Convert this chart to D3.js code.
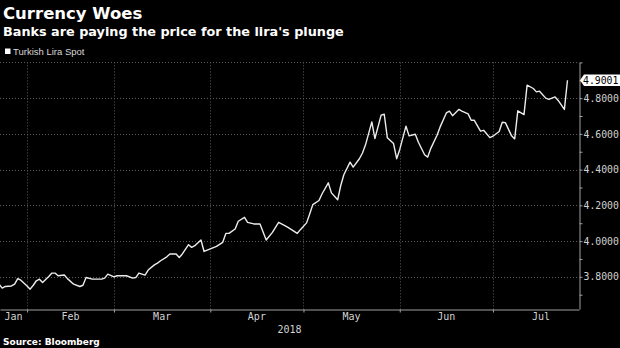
<!DOCTYPE html>
<html>
<head>
<meta charset="utf-8">
<script src="https://cdn.jsdelivr.net/npm/d3@7"></script>
<style>
  html, body { margin: 0; padding: 0; background: #000; }
  svg { display: block; }
</style>
</head>
<body>
<svg id="chart" width="620" height="348"></svg>
<script>
// ---------- DATA ----------
const title = "Currency Woes";
const subtitle = "Banks are paying the price for the lira's plunge";
const seriesName = "Turkish Lira Spot";
const source = "Source: Bloomberg";
const axisYear = "2018";

const dates = [
  "2018-01-23","2018-01-24","2018-01-25","2018-01-27","2018-01-28","2018-01-29","2018-01-30",
  "2018-02-01","2018-02-02","2018-02-03","2018-02-04","2018-02-05","2018-02-06","2018-02-08",
  "2018-02-09","2018-02-10","2018-02-11","2018-02-13","2018-02-14","2018-02-16","2018-02-18",
  "2018-02-19","2018-02-20","2018-02-22","2018-02-25","2018-02-26","2018-02-27",
  "2018-03-01","2018-03-02","2018-03-05","2018-03-07","2018-03-08","2018-03-09","2018-03-11",
  "2018-03-12","2018-03-14","2018-03-15","2018-03-16","2018-03-18","2018-03-19","2018-03-21",
  "2018-03-22","2018-03-23","2018-03-25","2018-03-26","2018-03-27","2018-03-29","2018-03-30",
  "2018-04-01","2018-04-03","2018-04-05","2018-04-06","2018-04-07","2018-04-09","2018-04-10",
  "2018-04-12","2018-04-13","2018-04-15","2018-04-17","2018-04-19","2018-04-21","2018-04-23",
  "2018-04-25","2018-04-26","2018-04-29","2018-04-30",
  "2018-05-02","2018-05-03","2018-05-04","2018-05-06","2018-05-07","2018-05-09","2018-05-10",
  "2018-05-12","2018-05-13","2018-05-14","2018-05-16","2018-05-17","2018-05-19","2018-05-20",
  "2018-05-21","2018-05-23","2018-05-24","2018-05-26","2018-05-27","2018-05-28","2018-05-30",
  "2018-05-31",
  "2018-06-01","2018-06-03","2018-06-04","2018-06-06","2018-06-07","2018-06-09","2018-06-10",
  "2018-06-11","2018-06-13","2018-06-14","2018-06-16","2018-06-17","2018-06-18","2018-06-20",
  "2018-06-21","2018-06-23","2018-06-24","2018-06-25","2018-06-27","2018-06-28","2018-06-30",
  "2018-07-01","2018-07-03","2018-07-04","2018-07-05","2018-07-07","2018-07-08","2018-07-09",
  "2018-07-11","2018-07-12","2018-07-14","2018-07-15","2018-07-16","2018-07-18","2018-07-19",
  "2018-07-21","2018-07-22","2018-07-24","2018-07-25"
];

const values = [
  3.759,3.737,3.746,3.749,3.759,3.790,3.781,
  3.749,3.731,3.753,3.778,3.787,3.768,3.802,
  3.821,3.821,3.806,3.810,3.790,3.759,3.746,
  3.753,3.796,3.787,3.787,3.793,3.815,
  3.800,3.806,3.806,3.793,3.796,3.821,3.810,
  3.838,3.867,3.877,3.890,3.912,3.928,3.928,
  3.908,3.928,3.980,3.965,3.974,4.006,3.942,
  3.956,3.970,3.993,4.043,4.043,4.068,4.111,
  4.133,4.105,4.096,4.096,4.006,4.049,4.105,
  4.087,4.077,4.043,4.064,
  4.102,4.152,4.204,4.227,4.265,4.326,4.270,
  4.231,4.311,4.371,4.442,4.414,4.461,4.493,
  4.540,4.667,4.574,4.705,4.710,4.578,4.546,
  4.461,
  4.513,4.643,4.589,4.598,4.553,4.483,4.470,
  4.519,4.592,4.639,4.717,4.727,4.702,4.737,
  4.727,4.712,4.676,4.676,4.615,4.620,4.579,
  4.587,4.613,4.665,4.663,4.589,4.572,4.729,
  4.708,4.873,4.854,4.835,4.839,4.800,4.793,
  4.807,4.787,4.737,4.9001
];

const yMajorTicks = [3.8, 4.0, 4.2, 4.4, 4.6, 4.8];
const yGridTicks = [3.8, 4.0, 4.2, 4.4, 4.6, 4.8, 5.0];
const yMinorTicks = [3.7, 3.9, 4.1, 4.3, 4.5, 4.7, 4.9, 5.0];
const monthStarts = ["2018-01-01","2018-02-01","2018-03-01","2018-04-01","2018-05-01","2018-06-01","2018-07-01","2018-08-01"];
const monthLabels = ["Jan","Feb","Mar","Apr","May","Jun","Jul"];
const lastLabel = "4.9001";

// ---------- LAYOUT ----------
const parse = d3.timeParse("%Y-%m-%d");
const data = dates.map((d, i) => ({ date: parse(d), value: values[i] }));
const mStarts = monthStarts.map(parse);

const plotLeft = 0, plotRight = 579, plotTop = 62.4, plotBottom = 309;
const x = d3.scaleTime()
  .domain([new Date(2018, 0, 23, 7), new Date(2018, 6, 28, 17)])
  .range([plotLeft, plotRight]);
const y = d3.scaleLinear().domain([3.62, 5.0]).range([plotBottom, plotTop]);

const svg = d3.select("#chart");
svg.append("rect").attr("width", 620).attr("height", 348).attr("fill", "#000");

const monoFont = "'DejaVu Sans Mono', monospace";
const axisColor = "#a0a0a0";
const labelColor = "#d2d2d2";

// Gridlines
const grid = svg.append("g");
grid.selectAll("line.h").data(yGridTicks).join("line")
  .attr("x1", plotLeft).attr("x2", plotRight)
  .attr("y1", d => Math.round(y(d)) + 0.5).attr("y2", d => Math.round(y(d)) + 0.5)
  .attr("stroke", "#5a5a5a").attr("stroke-width", 1).attr("stroke-dasharray", "1,2");
const innerMonths = mStarts.filter(d => x(d) > plotLeft + 1 && x(d) < plotRight - 1);
grid.selectAll("line.v").data(innerMonths).join("line")
  .attr("x1", d => Math.round(x(d)) + 0.5).attr("x2", d => Math.round(x(d)) + 0.5)
  .attr("y1", plotTop).attr("y2", plotBottom)
  .attr("stroke", "#5a5a5a").attr("stroke-width", 1).attr("stroke-dasharray", "1,2");

// Right axis (major with labels)
const yAxis = d3.axisRight(y).tickValues(yMajorTicks).tickFormat(d3.format(".4f"))
  .tickSize(3).tickSizeOuter(0).tickPadding(1);
const gy = svg.append("g").attr("transform", `translate(${plotRight + 0.5},0)`).call(yAxis);
gy.select(".domain").attr("stroke", axisColor);
gy.selectAll(".tick line").attr("stroke", axisColor);
gy.selectAll(".tick text").attr("fill", labelColor).style("font-family", monoFont).style("font-size", "9.8px");

// Right axis minor ticks
const yMinor = d3.axisRight(y).tickValues(yMinorTicks).tickFormat("").tickSize(3).tickSizeOuter(0);
const gym = svg.append("g").attr("transform", `translate(${plotRight + 0.5},0)`).call(yMinor);
gym.select(".domain").remove();
gym.selectAll(".tick line").attr("stroke", axisColor);

// Bottom axis
const xAxis = d3.axisBottom(x).tickValues(innerMonths).tickFormat("").tickSize(3).tickSizeOuter(0);
const gx = svg.append("g").attr("transform", `translate(0,${plotBottom + 0.5})`).call(xAxis);
gx.select(".domain").attr("stroke", axisColor);
gx.selectAll(".tick line").attr("stroke", axisColor);

// Month labels
const [d0, d1] = x.domain();
const monthPos = monthLabels.map((m, i) => {
  const s = mStarts[i], e = mStarts[i + 1];
  const mid = new Date((+s + +e) / 2);
  let px;
  if (mid >= d0 && mid <= d1) px = x(mid);
  else px = (x(s < d0 ? d0 : s) + x(e > d1 ? d1 : e)) / 2;
  return { label: m, px };
});
svg.append("g").selectAll("text").data(monthPos).join("text")
  .attr("x", d => d.px).attr("y", 320)
  .attr("text-anchor", "middle")
  .attr("fill", labelColor).style("font-family", monoFont).style("font-size", "10px")
  .text(d => d.label);
svg.append("text")
  .attr("x", (plotLeft + plotRight) / 2).attr("y", 333)
  .attr("text-anchor", "middle")
  .attr("fill", labelColor).style("font-family", monoFont).style("font-size", "10px")
  .text(axisYear);

// Line
const line = d3.line().x(d => x(d.date)).y(d => y(d.value));
svg.append("path").datum(data)
  .attr("d", line).attr("fill", "none")
  .attr("stroke", "#ececec").attr("stroke-width", 1.4).attr("stroke-linejoin", "round");

// Last value label
const last = data[data.length - 1];
const ly = y(last.value);
svg.append("path")
  .attr("d", `M${plotRight + 1},${ly} L${plotRight + 5},${ly - 5.8} L620,${ly - 5.8} L620,${ly + 5.8} L${plotRight + 5},${ly + 5.8} Z`)
  .attr("fill", "#fff");
svg.append("text")
  .attr("x", plotRight + 4).attr("y", ly).attr("dy", "0.35em")
  .attr("fill", "#000").style("font-family", monoFont).style("font-size", "9.8px")
  .text(lastLabel);

// Titles
svg.append("text").attr("x", 3).attr("y", 19.3)
  .attr("fill", "#fff").style("font-family", "'DejaVu Sans', sans-serif")
  .style("font-weight", "bold").style("font-size", "16.5px").text(title);
svg.append("text").attr("x", 3).attr("y", 35.5)
  .attr("fill", "#fff").style("font-family", "'DejaVu Sans', sans-serif")
  .style("font-weight", "bold").style("font-size", "12.8px").text(subtitle);

// Legend
svg.append("rect").attr("x", 5).attr("y", 48.5).attr("width", 5.5).attr("height", 5.5).attr("fill", "#fff");
svg.append("text").attr("x", 13).attr("y", 55)
  .attr("fill", "#d8d8d8").style("font-family", "'Liberation Sans', Arial, sans-serif")
  .style("font-size", "9.5px").text(seriesName);

// Source
svg.append("text").attr("x", 3).attr("y", 345)
  .attr("fill", "#fff").style("font-family", "'DejaVu Sans', sans-serif")
  .style("font-weight", "bold").style("font-size", "9px").text(source);
</script>
</body>
</html>
